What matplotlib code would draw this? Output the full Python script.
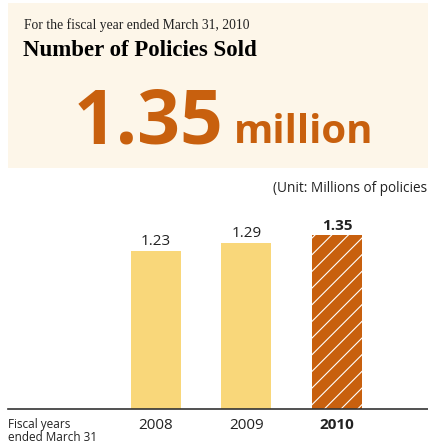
import numpy as np
import matplotlib.pyplot as plt
from matplotlib.patches import Rectangle

# policies sold, millions, fiscal years ended March 31
years = ['2008', '2009', '2010']
policies = [1.23, 1.29, 1.35]
value_labels = ['1.23', '1.29', '1.35']

cream = '#fdf6e9'
yellow = '#f9d77a'
orange = '#c8600e'

plt.rcParams['hatch.linewidth'] = 0.8

fig = plt.figure(figsize=(4.28, 4.47), dpi=100)
W, H = 428.0, 447.0

def fx(px):
    return px / W

def fy(py):
    return 1 - py / H

# header panel
fig.patches.append(Rectangle((fx(8), fy(168)), fx(420), 165 / H,
                             transform=fig.transFigure, facecolor=cream,
                             edgecolor='none', zorder=0))
fig.text(fx(24), fy(25), 'For the fiscal year ended March 31, 2010',
         family='Liberation Serif', fontsize=9.8, va='center', color='#222222')
fig.text(fx(23), fy(50), 'Number of Policies Sold',
         family='Liberation Serif', fontweight='bold', fontsize=16.5,
         va='center', color='black')
fig.text(fx(74), fy(143), '1.35', family='Open Sans',
         fontweight='bold', fontsize=54, va='baseline', color=orange)
fig.text(fx(234), fy(143), 'million', family='Open Sans',
         fontweight='bold', fontsize=29, va='baseline', color=orange)

fig.text(fx(427), fy(189), '(Unit: Millions of policies', family='Open Sans',
         fontsize=9.8, ha='right', va='center', color='#222222')

# bar chart
ax = fig.add_axes([fx(8), fy(408.7), fx(420), (408.7 - 216) / H])
x = np.arange(len(years))
colors = [yellow, yellow, orange]
bars = ax.bar(x, policies, width=0.552, color=colors, linewidth=0)
bars[2].set_hatch('//')
bars[2].set_edgecolor('white')

for i, (v, lab) in enumerate(zip(policies, value_labels)):
    ax.text(x[i], v + 0.015, lab, ha='center', va='bottom', family='Open Sans',
            fontsize=11, fontweight='bold' if i == 2 else 'normal',
            color='#222222')

ax.set_xlim(-1.635, 3.006)
ax.set_ylim(0, 1.5)
ax.set_xticks(x)
ax.set_xticklabels(years, family='Open Sans', fontsize=11, color='#222222')
ax.get_xticklabels()[2].set_fontweight('bold')
ax.tick_params(axis='x', length=0, pad=7)
ax.set_yticks([])
for s in ['top', 'right', 'left']:
    ax.spines[s].set_visible(False)
ax.spines['bottom'].set_color('#333333')
ax.spines['bottom'].set_linewidth(1.2)
ax.patch.set_alpha(0)

fig.text(fx(8), fy(431), 'Fiscal years\nended March 31', family='Open Sans',
         fontsize=8.5, va='center', linespacing=1.05, color='#222222')

fig.savefig('out.png', dpi=100)
